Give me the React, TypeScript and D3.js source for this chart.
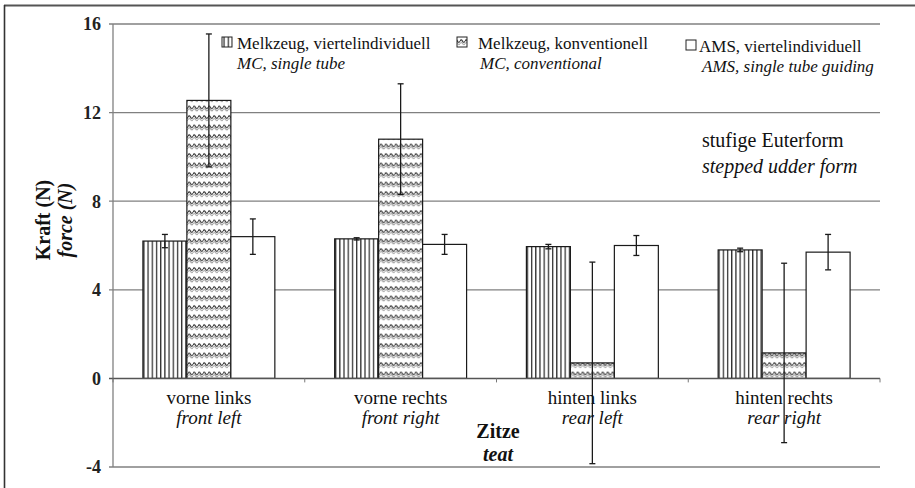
import React from "react";
import * as d3 from "d3";

const categories = ["vorne links", "vorne rechts", "hinten links", "hinten rechts"];
const categoriesEn = ["front left", "front right", "rear left", "rear right"];
const seriesKeys = ["mcSingle", "mcConv", "ams"];
const seriesNames = ["Melkzeug, viertelindividuell", "Melkzeug, konventionell", "AMS, viertelindividuell"];
const seriesNamesEn = ["MC, single tube", "MC, conventional", "AMS, single tube guiding"];
const mcSingle = [6.2, 6.3, 5.95, 5.8];
const mcSingleErr = [0.3, 0.05, 0.1, 0.08];
const mcConv = [12.55, 10.8, 0.7, 1.15];
const mcConvErr = [3.0, 2.5, 4.55, 4.05];
const ams = [6.4, 6.05, 6.0, 5.7];
const amsErr = [0.8, 0.45, 0.45, 0.8];
const yTicks = [-4, 0, 4, 8, 12, 16];

const values = [mcSingle, mcConv, ams];
const errors = [mcSingleErr, mcConvErr, amsErr];
const fills = ["url(#vstripes)", "url(#waves)", "#fff"];

const FONT = "'Liberation Serif', 'Times New Roman', serif";

export default function App() {
  const W = 915, H = 488;
  const left = 113, right = 880, top = 24, bottom = 467;
  const y = d3.scaleLinear().domain([-4, 16]).range([bottom, top]);
  const x = d3.scaleBand().domain(categories).range([left, right]).paddingInner(0).paddingOuter(0);
  const xs = d3.scaleBand().domain(seriesKeys).range([0, x.bandwidth()]).paddingInner(0).paddingOuter(0.68);
  const bw = xs.bandwidth();

  return (
    <svg width={W} height={H} style={{ position: "absolute", left: 0, top: 0, background: "#fff", fontFamily: FONT }}>
      <defs>
        <pattern id="vstripes" patternUnits="userSpaceOnUse" width={4.2} height={10}>
          <rect width={4.2} height={10} fill="#fff" />
          <line x1={1.5} x2={1.5} y1={0} y2={10} stroke="#222" strokeWidth={1.2} />
        </pattern>
        <pattern id="waves" patternUnits="userSpaceOnUse" width={5} height={9.5}>
          <rect width={5} height={9.5} fill="#fff" />
          <path d="M0,3 Q1.25,0.5 2.5,3 T5,3" fill="none" stroke="#222" strokeWidth={1.1} />
          <path d="M0,5.5 Q1.25,3 2.5,5.5 T5,5.5" fill="none" stroke="#666" strokeWidth={0.9} />
        </pattern>
      </defs>

      {/* frame */}
      <line x1={4} x2={915} y1={5.5} y2={5.5} stroke="#555" strokeWidth={2} />
      <line x1={4.5} x2={4.5} y1={5} y2={488} stroke="#333" strokeWidth={1.6} />

      {/* gridlines */}
      {yTicks.filter((t) => t !== 0).map((t) => (
        <line key={t} x1={left - 4} x2={right} y1={y(t)} y2={y(t)} stroke="#808080" strokeWidth={1.3} />
      ))}
      <line x1={left} x2={left} y1={top} y2={bottom} stroke="#808080" strokeWidth={1.3} />

      {/* bars */}
      {categories.map((c, ci) => (
        <g key={c} transform={`translate(${x(c)},0)`}>
          {seriesKeys.map((k, si) => {
            const v = values[si][ci];
            const y0 = y(Math.max(0, v));
            const h = Math.abs(y(v) - y(0));
            return (
              <rect key={k} x={xs(k)} y={y0} width={bw} height={h} fill={fills[si]} stroke="#1a1a1a" strokeWidth={1.2} />
            );
          })}
        </g>
      ))}

      {/* zero axis */}
      <line x1={left - 4} x2={right} y1={y(0)} y2={y(0)} stroke="#555" strokeWidth={1.5} />
      {d3.range(categories.length + 1).map((i) => {
        const xx = left + i * x.step();
        return <line key={i} x1={xx} x2={xx} y1={y(0)} y2={y(0) + 4} stroke="#777" strokeWidth={1} />;
      })}

      {/* error bars */}
      {categories.map((c, ci) => (
        <g key={c} transform={`translate(${x(c)},0)`}>
          {seriesKeys.map((k, si) => {
            const v = values[si][ci];
            const e = errors[si][ci];
            const cx = (xs(k) as number) + bw / 2;
            return (
              <g key={k} stroke="#1a1a1a" strokeWidth={1.3}>
                <line x1={cx} x2={cx} y1={y(v + e)} y2={y(v - e)} />
                <line x1={cx - 3} x2={cx + 3} y1={y(v + e)} y2={y(v + e)} />
                <line x1={cx - 3} x2={cx + 3} y1={y(v - e)} y2={y(v - e)} />
              </g>
            );
          })}
        </g>
      ))}

      {/* y tick labels */}
      {yTicks.map((t) => (
        <text key={t} x={101} y={y(t)} dy="0.35em" textAnchor="end" fontSize={18} fontWeight="bold" fill="#222">
          {t}
        </text>
      ))}

      {/* y title */}
      <text transform={`translate(50,220) rotate(-90)`} textAnchor="middle" fontSize={20} fontWeight="bold" fill="#111">
        Kraft (N)
      </text>
      <text transform={`translate(72,220) rotate(-90)`} textAnchor="middle" fontSize={20} fontWeight="bold" fontStyle="italic" fill="#111">
        force (N)
      </text>

      {/* category labels */}
      {categories.map((c, ci) => (
        <g key={c}>
          <text x={(x(c) as number) + x.bandwidth() / 2} y={404} textAnchor="middle" fontSize={19} fill="#111">
            {c}
          </text>
          <text x={(x(c) as number) + x.bandwidth() / 2} y={424} textAnchor="middle" fontSize={19} fontStyle="italic" fill="#111">
            {categoriesEn[ci]}
          </text>
        </g>
      ))}

      {/* x title */}
      <text x={498} y={438} textAnchor="middle" fontSize={20} fontWeight="bold" fill="#111">Zitze</text>
      <text x={498} y={461} textAnchor="middle" fontSize={20} fontWeight="bold" fontStyle="italic" fill="#111">teat</text>

      {/* legend */}
      {seriesKeys.map((k, si) => {
        const sx = [222, 457, 686][si];
        const tx = [237, 478, 699][si];
        const tx2 = [237, 480, 702][si];
        const dy = si === 2 ? 3 : 0;
        return (
          <g key={k}>
            <rect x={sx} y={37 + dy} width={10} height={10} fill={fills[si]} stroke="#222" strokeWidth={1} />
            <text x={tx} y={49 + dy} fontSize={17} fill="#111">{seriesNames[si]}</text>
            <text x={tx2} y={69 + dy} fontSize={17} fontStyle="italic" fill="#111">{seriesNamesEn[si]}</text>
          </g>
        );
      })}

      {/* annotation */}
      <text x={702} y={147} fontSize={20} fill="#111">stufige Euterform</text>
      <text x={702} y={173} fontSize={20} fontStyle="italic" fill="#111">stepped udder form</text>
    </svg>
  );
}
